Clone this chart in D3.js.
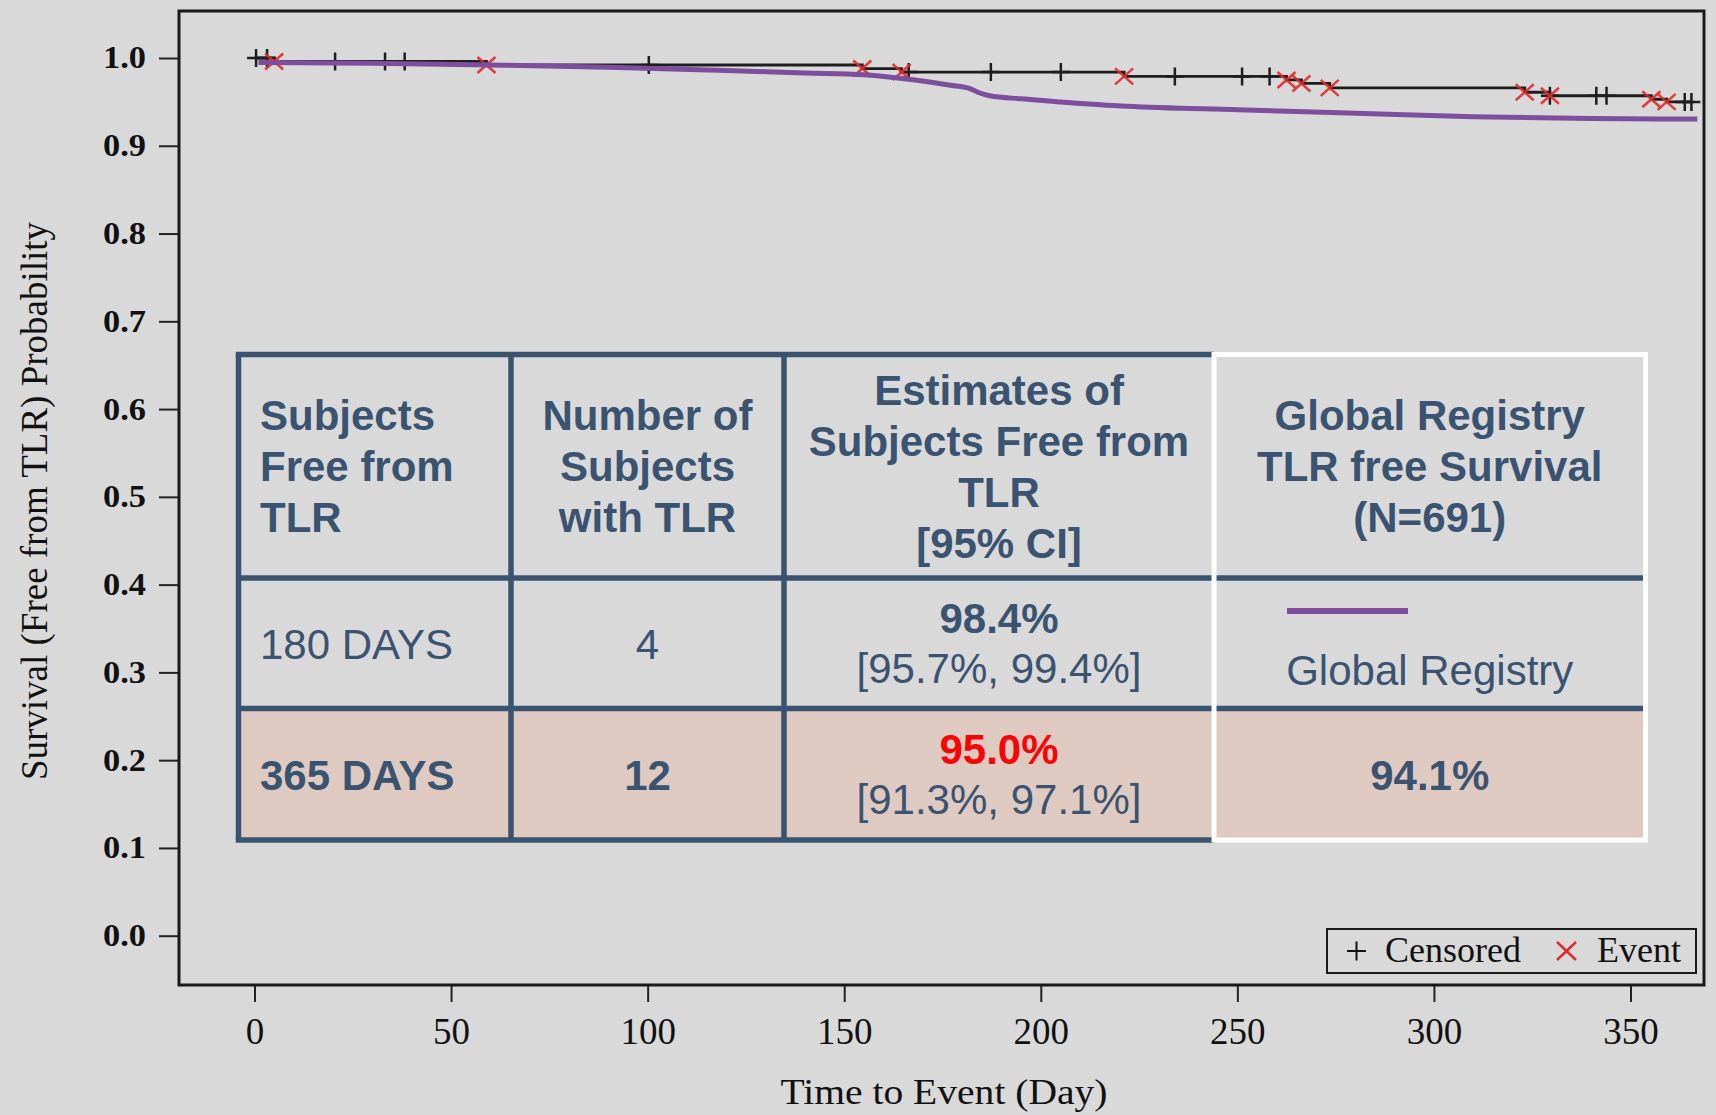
<!DOCTYPE html>
<html>
<head>
<meta charset="utf-8">
<script src="https://cdn.jsdelivr.net/npm/d3@7"></script>
<style>
  body { margin: 0; background: #d9d9d9; }
  svg { display: block; }
</style>
</head>
<body>
<div id="chart"></div>
<script>
// axis ticks
const xTicks = [0, 50, 100, 150, 200, 250, 300, 350];
const yTicks = [0, 0.1, 0.2, 0.3, 0.4, 0.5, 0.6, 0.7, 0.8, 0.9, 1.0];

// Kaplan-Meier: events (day, survival after the event) and censored days
const eventDays = [5, 59, 154.6, 164.6, 221.2, 262.5, 266.3, 273.5, 323.1, 329.5, 355.3, 359.2];
const eventSurv = [0.996, 0.992, 0.988, 0.984, 0.979, 0.975, 0.971, 0.966, 0.961, 0.957, 0.953, 0.950];
const censorDays = [0.4, 3.2, 20.5, 33.2, 38.2, 100.3, 166.4, 187.3, 205.1, 234.1, 251.2, 258.2,
  329.5, 341.3, 343.9, 363.8, 365.5];
const kmEndDay = 365.5;

// global registry curve
const registryDays = [1, 30, 60, 90, 118, 140, 155, 168, 177, 182, 184, 187, 195, 205, 222, 250, 280, 310, 340, 367];
const registrySurv = [0.995, 0.994, 0.992, 0.9895, 0.986, 0.983, 0.981, 0.975, 0.969, 0.965, 0.961, 0.957,
  0.9535, 0.950, 0.945, 0.941, 0.937, 0.933, 0.931, 0.9305];

// table contents
const headerLines = [
  ["Subjects", "Free from", "TLR"],
  ["Number of", "Subjects", "with TLR"],
  ["Estimates of", "Subjects Free from", "TLR", "[95% CI]"],
  ["Global Registry", "TLR free Survival", "(N=691)"]
];
const rowLabels = ["180 DAYS", "365 DAYS"];
const tlrCounts = ["4", "12"];
const estimates = ["98.4%", "95.0%"];
const estimateCI = ["[95.7%, 99.4%]", "[91.3%, 97.1%]"];
const registryCell = ["Global Registry", "94.1%"];
const legendItems = ["Censored", "Event"];

const W = 1716, H = 1115;
const frame = { left: 179, top: 11, right: 1704, bottom: 985 };
const ink = "#3a5370", purple = "#7d4e9d", red = "#e32a2a";
const serif = "'Liberation Serif', 'Times New Roman', serif";
const sans = "'Liberation Sans', Arial, sans-serif";

const svg = d3.select("#chart").append("svg")
  .attr("width", W).attr("height", H);

svg.append("rect").attr("width", W).attr("height", H).attr("fill", "#d9d9d9");

const x = d3.scaleLinear().domain([0, 350]).range([254.5, 1630.5]);
const y = d3.scaleLinear().domain([0, 1]).range([935.7, 58]);

// y axis
const gy = svg.append("g")
  .attr("transform", "translate(" + frame.left + ",0)")
  .call(d3.axisLeft(y).tickValues(yTicks).tickSize(20).tickPadding(13).tickFormat(d3.format(".1f")));
gy.select(".domain").remove();
gy.selectAll(".tick line").attr("stroke", "#222").attr("stroke-width", 2);
gy.selectAll(".tick text")
  .attr("fill", "#111").attr("textLength", 43).attr("lengthAdjust", "spacingAndGlyphs")
  .style("font-family", serif).style("font-size", "31px").style("font-weight", "bold");

// x axis
const gx = svg.append("g")
  .attr("transform", "translate(0," + frame.bottom + ")")
  .call(d3.axisBottom(x).tickValues(xTicks).tickSize(17).tickPadding(16));
gx.select(".domain").remove();
gx.selectAll(".tick line").attr("stroke", "#222").attr("stroke-width", 2);
gx.selectAll(".tick text")
  .attr("fill", "#111").style("font-family", serif).style("font-size", "37px");

// frame
svg.append("rect")
  .attr("x", frame.left).attr("y", frame.top)
  .attr("width", frame.right - frame.left).attr("height", frame.bottom - frame.top)
  .attr("fill", "none").attr("stroke", "#1a1a1a").attr("stroke-width", 3);

// axis titles
svg.append("text")
  .attr("transform", "translate(47,501) rotate(-90)")
  .attr("text-anchor", "middle")
  .attr("textLength", 558).attr("lengthAdjust", "spacingAndGlyphs")
  .style("font-family", serif).style("font-size", "38px").attr("fill", "#111")
  .text("Survival (Free from TLR) Probability");

svg.append("text")
  .attr("x", 944).attr("y", 1104)
  .attr("text-anchor", "middle")
  .attr("textLength", 327).attr("lengthAdjust", "spacingAndGlyphs")
  .style("font-family", serif).style("font-size", "36px").attr("fill", "#111")
  .text("Time to Event (Day)");

// KM step line
const kmPoints = [[0, 1]].concat(eventDays.map((d, i) => [d, eventSurv[i]]));
kmPoints.push([kmEndDay, eventSurv[eventSurv.length - 1]]);

function survAt(t) {
  let s = 1;
  eventDays.forEach((d, i) => { if (d <= t) s = eventSurv[i]; });
  return s;
}

svg.append("path")
  .datum(kmPoints)
  .attr("fill", "none").attr("stroke", "#1e1e1e").attr("stroke-width", 2.8)
  .attr("d", d3.line().x(d => x(d[0])).y(d => y(d[1])).curve(d3.curveStepAfter));

svg.append("g").selectAll("path")
  .data(censorDays).join("path")
  .attr("transform", d => "translate(" + x(d) + "," + y(survAt(d)) + ")")
  .attr("d", "M-9,0H9M0,-9V9")
  .attr("stroke", "#1e1e1e").attr("stroke-width", 2.5);

svg.append("g").selectAll("path")
  .data(eventDays).join("path")
  .attr("transform", (d, i) => "translate(" + x(d) + "," + y(eventSurv[i]) + ")")
  .attr("d", "M-9,-8L9,8M9,-8L-9,8")
  .attr("stroke", red).attr("stroke-width", 2.5).attr("opacity", 0.9);

// registry curve
svg.append("path")
  .datum(registryDays.map((d, i) => [d, registrySurv[i]]))
  .attr("fill", "none").attr("stroke", purple).attr("stroke-width", 5)
  .attr("d", d3.line().x(d => x(d[0])).y(d => y(d[1])).curve(d3.curveMonotoneX));

// legend
const lg = svg.append("g");
lg.append("rect")
  .attr("x", 1327).attr("y", 929).attr("width", 369).attr("height", 44)
  .attr("fill", "#d9d9d9").attr("stroke", "#1a1a1a").attr("stroke-width", 2);
lg.append("path").attr("d", "M1347,951H1366M1356.5,941.5V960.5")
  .attr("stroke", "#111").attr("stroke-width", 2);
lg.append("text").attr("x", 1385).attr("y", 962)
  .style("font-family", serif).style("font-size", "36px").attr("fill", "#111")
  .text(legendItems[0]);
lg.append("path").attr("d", "M1557,942L1576,960M1576,942L1557,960")
  .attr("stroke", red).attr("stroke-width", 2.5);
lg.append("text").attr("x", 1597).attr("y", 962)
  .style("font-family", serif).style("font-size", "36px").attr("fill", "#111")
  .text(legendItems[1]);

// table
const colEdges = [238.5, 511, 784, 1214, 1645.5];
const rowEdges = [354.5, 578, 708.5, 840];
const tb = svg.append("g");
const colMid = i => (colEdges[i] + colEdges[i + 1]) / 2;
const rowMid = i => (rowEdges[i] + rowEdges[i + 1]) / 2;

tb.append("rect")
  .attr("x", colEdges[0]).attr("y", rowEdges[2])
  .attr("width", colEdges[4] - colEdges[0]).attr("height", rowEdges[3] - rowEdges[2])
  .attr("fill", "#dfcac1");

const lw = 5.5;
// dark grid
[rowEdges[0], rowEdges[3]].forEach(r => {
  tb.append("line").attr("x1", colEdges[0] - lw / 2).attr("x2", colEdges[3]).attr("y1", r).attr("y2", r)
    .attr("stroke", ink).attr("stroke-width", lw);
});
[rowEdges[1], rowEdges[2]].forEach(r => {
  tb.append("line").attr("x1", colEdges[0]).attr("x2", colEdges[4] - 2).attr("y1", r).attr("y2", r)
    .attr("stroke", ink).attr("stroke-width", lw);
});
[colEdges[0], colEdges[1], colEdges[2]].forEach(c => {
  tb.append("line").attr("x1", c).attr("x2", c).attr("y1", rowEdges[0]).attr("y2", rowEdges[3])
    .attr("stroke", ink).attr("stroke-width", lw);
});
// white box around registry column
tb.append("rect")
  .attr("x", colEdges[3]).attr("y", rowEdges[0])
  .attr("width", colEdges[4] - colEdges[3]).attr("height", rowEdges[3] - rowEdges[0])
  .attr("fill", "none").attr("stroke", "#ffffff").attr("stroke-width", 5);

function cellText(xp, yp, txt, opts) {
  opts = opts || {};
  tb.append("text")
    .attr("x", xp).attr("y", yp)
    .attr("text-anchor", opts.anchor || "middle")
    .style("font-family", sans).style("font-size", "42px")
    .style("font-weight", opts.bold ? "bold" : "normal")
    .attr("fill", opts.color || ink)
    .text(txt);
}

const textLeft = colEdges[0] + 21.5;
headerLines.forEach((lines, c) => {
  const n = lines.length;
  lines.forEach((t, i) => {
    const yy = rowMid(0) + 15 + (i - (n - 1) / 2) * 51;
    if (c === 0) cellText(textLeft, yy, t, { bold: true, anchor: "start" });
    else cellText(colMid(c), yy, t, { bold: true });
  });
});

rowLabels.forEach((lab, r) => {
  const mid = rowMid(r + 1);
  const bold = r === 1;
  cellText(textLeft, mid + 16, lab, { bold: bold, anchor: "start" });
  cellText(colMid(1), mid + 16, tlrCounts[r], { bold: bold });
  cellText(colMid(2), mid + 15 - 25, estimates[r], { bold: true, color: r === 1 ? "#ff0000" : ink });
  cellText(colMid(2), mid + 15 + 25, estimateCI[r]);
});

// registry column body: legend sample + label, then 365-day value
tb.append("line")
  .attr("x1", 1287).attr("x2", 1408).attr("y1", 611).attr("y2", 611)
  .attr("stroke", purple).attr("stroke-width", 6);
cellText(colMid(3), 685, registryCell[0]);
cellText(colMid(3), rowMid(2) + 16, registryCell[1], { bold: true });
</script>
</body>
</html>
